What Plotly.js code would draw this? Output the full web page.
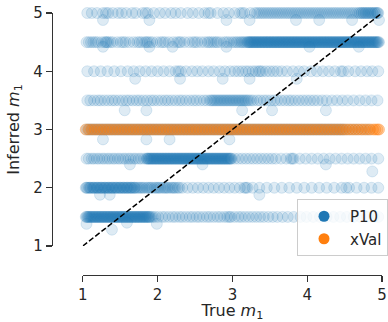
<!DOCTYPE html>
<html>
<head>
<meta charset="utf-8">
<script src="https://cdn.plot.ly/plotly-3.0.1.min.js"></script>
<style>html,body{margin:0;padding:0;background:#fff;}#chart{width:388px;height:322px;}</style>
</head>
<body>
<div id="chart"></div>
<script>
// ---- data ----
const levels = [1.5, 2, 2.5, 3, 3.5, 4, 4.5, 5];

const x_at_1_5 = [1.04,1.05,1.06,1.07,1.08,1.09,1.10,1.11,1.12,1.13,1.14,1.15,1.16,1.17,1.18,1.19,1.20,1.21,1.22,1.23,1.24,1.25,1.26,1.27,1.28,1.29,1.30,1.31,1.32,1.33,1.34,1.35,1.36,1.37,1.38,1.39,1.40,1.41,1.42,1.43,1.44,1.45,1.46,1.47,1.48,1.49,1.50,1.51,1.52,1.53,1.54,1.55,1.56,1.57,1.58,1.59,1.60,1.61,1.62,1.63,1.64,1.65,1.66,1.67,1.68,1.69,1.70,1.71,1.72,1.73,1.74,1.75,1.76,1.77,1.78,1.79,1.80,1.81,1.82,1.83,1.84,1.85,1.86,1.87,1.88,1.89,1.90,1.92,1.94,
  1.97,2.01,2.06,2.10,2.15,2.20,2.24,2.29,2.33,2.38,2.43,2.47,2.52,2.56,2.61,2.66,2.70,2.75,2.80,2.84,2.89,2.93,2.96,2.98,3.03,3.08,3.12,3.17,3.22,3.27,3.32,3.37,3.42,3.48,3.54,3.60,3.67,3.74,
  3.82,3.91,3.99,4.08,4.17,4.26,4.35,4.44,4.53,4.62,4.71,4.80,4.89,4.95];

const x_at_2_0 = [1.04,1.05,1.06,1.08,1.09,1.10,1.11,1.13,1.14,1.15,1.16,1.18,1.19,1.20,1.21,1.23,1.24,1.25,1.26,1.28,1.29,1.30,1.31,1.33,1.34,1.35,1.36,1.38,1.39,1.40,1.41,1.43,1.44,1.45,1.46,1.48,1.49,1.50,1.51,1.53,1.54,1.55,1.56,1.58,1.59,1.60,1.61,1.63,1.64,1.65,1.66,1.68,1.69,1.70,1.72,1.74,
  1.76,1.78,1.80,1.82,1.85,1.87,1.89,1.91,1.93,1.96,1.98,2.00,2.02,2.04,2.07,2.09,2.11,2.13,2.15,2.18,2.20,2.22,2.24,2.27,2.29,
  2.33,2.40,2.47,2.54,2.61,2.68,2.75,2.82,2.89,2.96,3.03,3.10,3.16,3.18,3.20,3.27,
  3.36,3.46,3.56,3.66,3.76,3.86,3.96,4.06,4.16,4.26,4.36,4.46,4.52,4.56,4.66,4.76,4.86,4.95];

const x_at_2_5 = [1.05,1.08,1.12,1.15,1.19,1.22,1.26,1.29,1.33,1.36,1.40,1.43,1.47,1.50,1.54,1.57,1.61,1.64,1.68,1.71,1.75,1.78,1.82,
  1.85,1.86,1.87,1.88,1.89,1.90,1.91,1.92,1.93,1.94,1.95,1.96,1.97,1.98,1.99,
  2.00,2.01,2.02,2.03,2.04,2.05,2.06,2.07,2.08,2.09,2.10,2.11,2.12,2.13,2.14,2.15,2.16,2.17,2.18,2.19,2.20,2.21,2.22,2.23,2.24,2.25,2.26,2.27,2.28,2.29,2.30,2.31,2.32,2.33,2.34,2.35,2.36,2.37,2.38,2.39,2.40,2.41,2.42,2.43,2.44,2.45,2.46,2.47,2.48,2.49,
  2.50,2.51,2.52,2.53,2.54,2.55,2.56,2.57,2.58,2.59,2.60,2.61,2.62,2.63,2.64,2.65,2.66,2.67,2.68,2.69,2.70,2.71,2.72,2.73,2.74,2.75,2.76,2.77,2.78,2.79,2.80,2.81,2.82,2.83,2.84,2.85,2.86,2.87,2.88,2.89,2.90,2.91,2.92,2.93,2.94,2.95,2.96,2.97,2.98,2.99,
  3.03,3.08,3.13,3.18,3.23,3.28,3.33,3.38,3.43,3.48,3.53,3.58,
  3.65,3.72,3.78,3.80,3.82,3.90,3.98,4.06,4.14,4.22,4.30,4.38,4.46,4.54,4.62,4.70,4.78,4.86,4.95];

const x_at_3_0 = [1.05,1.07,1.09,1.11,1.13,1.15,1.17,1.19,1.21,1.23,1.25,1.27,1.29,1.31,1.33,1.35,1.37,1.39,1.41,1.43,1.45,1.47,1.49,
  1.51,1.53,1.55,1.57,1.59,1.61,1.63,1.65,1.67,1.69,1.71,1.73,1.75,1.77,1.79,1.81,1.83,1.85,1.87,1.89,1.91,1.93,1.95,1.97,1.99,
  2.01,2.03,2.05,2.07,2.09,2.11,2.13,2.15,2.17,2.19,2.21,2.23,2.25,2.27,2.29,2.31,2.33,2.35,2.37,2.39,2.41,2.43,2.45,2.47,2.49,
  2.51,2.53,2.55,2.57,2.59,2.61,2.63,2.65,2.67,2.69,2.71,2.73,2.75,2.77,2.79,2.81,2.83,2.85,2.87,2.89,2.91,2.93,2.95,2.97,2.99,
  3.01,3.03,3.05,3.07,3.09,3.11,3.13,3.15,3.17,3.19,3.21,3.23,3.25,3.27,3.29,3.31,3.33,3.35,3.37,3.39,3.41,3.43,3.45,3.47,3.49,
  3.51,3.53,3.55,3.57,3.59,3.61,3.63,3.65,3.67,3.69,3.71,3.73,3.75,3.77,3.79,3.81,3.83,3.85,3.87,3.89,3.91,3.93,3.95,3.97,3.99,
  4.01,4.03,4.05,4.07,4.09,4.11,4.13,4.15,4.17,4.19,4.21,4.23,4.25,4.27,4.29,4.31,4.33,4.35,4.37,4.39,4.41,4.43,4.45,4.47,4.49,
  4.52,4.56,4.60,4.64,4.68,4.73,4.78,4.83];

const x_at_3_5 = [1.06,1.10,1.15,1.20,1.24,1.29,1.34,1.39,1.43,1.48,1.53,1.58,1.62,1.67,1.72,1.76,1.81,1.86,1.91,1.95,2.00,2.05,2.10,2.14,2.19,2.24,2.29,2.33,2.38,2.43,2.48,2.52,2.57,2.62,2.66,
  2.70,2.72,2.74,2.76,2.78,2.80,2.82,2.84,2.86,2.88,2.90,2.92,2.94,2.96,2.98,3.00,3.02,3.04,3.06,3.08,3.10,3.12,3.14,3.16,3.18,3.20,3.22,3.25,3.28,
  3.33,3.37,3.42,3.46,3.51,3.56,3.60,3.65,3.70,3.75,3.79,3.84,3.89,3.94,3.99,4.04,4.09,4.14,4.20,4.26,4.33,4.40,4.47,4.54,4.62,4.70,4.78,4.86,4.94];

const x_at_4_0 = [1.06,1.15,1.24,1.33,1.42,1.51,1.60,1.68,1.76,1.84,1.92,2.00,2.08,2.16,2.24,2.28,2.31,2.38,2.46,2.53,2.60,2.68,2.75,2.83,2.90,2.97,
  3.03,3.08,3.13,3.18,3.22,3.27,3.31,3.35,3.37,3.40,3.45,3.50,3.55,3.60,3.66,
  3.73,3.81,3.89,3.96,4.05,4.13,4.21,4.29,4.37,4.45,4.48,4.55,4.64,4.72,4.80,4.87,4.95];

const x_at_4_5 = [1.05,1.08,1.11,1.14,1.17,1.20,1.25,1.29,1.31,1.32,1.34,1.37,1.40,1.46,1.51,1.54,1.57,1.62,1.68,1.73,1.76,1.79,1.83,1.85,1.87,1.90,1.93,1.99,2.04,2.07,2.10,2.15,2.21,2.26,2.29,2.31,2.36,2.42,2.47,2.50,2.53,2.58,2.63,2.67,2.69,2.72,2.75,2.78,2.80,2.84,2.89,2.92,2.95,2.99,3.02,3.05,3.07,3.10,3.12,3.14,3.16,3.18,
  3.20,3.21,3.22,3.23,3.24,3.25,3.26,3.27,3.28,3.29,3.30,3.31,3.32,3.33,3.34,3.35,3.36,3.37,3.38,3.39,3.40,3.41,3.42,3.43,3.44,3.45,3.46,3.47,3.48,3.49,
  3.50,3.51,3.52,3.53,3.54,3.55,3.56,3.57,3.58,3.59,3.60,3.61,3.62,3.63,3.64,3.65,3.66,3.67,3.68,3.69,3.70,3.71,3.72,3.73,3.74,3.75,3.76,3.77,3.78,3.79,3.80,3.81,3.82,3.83,3.84,3.85,3.86,3.87,3.88,3.89,3.90,3.91,3.92,3.93,3.94,3.95,3.96,3.97,3.98,3.99,
  4.00,4.01,4.02,4.03,4.04,4.05,4.06,4.07,4.08,4.09,4.10,4.11,4.12,4.13,4.14,4.15,4.16,4.17,4.18,4.19,4.20,4.21,4.22,4.23,4.24,4.25,4.26,4.27,4.28,4.29,4.30,4.31,4.32,4.33,4.34,4.35,4.36,4.37,4.38,4.39,4.40,4.41,4.42,4.43,4.44,4.45,4.46,4.47,4.48,4.49,
  4.50,4.51,4.52,4.53,4.54,4.55,4.56,4.57,4.58,4.59,4.60,4.61,4.62,4.63,4.64,4.65,4.66,4.67,4.68,4.69,4.70,4.71,4.72,4.73,4.74,4.75,4.76,4.77,4.78,4.79,4.80,4.81,4.82,4.83,4.84,4.85,4.86,4.87,4.88,4.89,4.90,4.91,4.92,4.93,4.94,4.95,4.96];

const x_at_5_0 = [1.06,1.12,1.19,
  1.27,1.31,1.34,1.40,1.47,1.52,1.58,1.66,1.71,1.80,1.84,1.87,1.95,2.03,2.10,2.18,2.24,2.31,2.40,2.47,2.55,2.63,2.68,2.71,2.80,2.88,2.95,3.03,3.10,3.13,3.16,3.24,3.30,3.33,
  3.36,3.39,3.42,3.45,3.48,3.51,3.54,3.57,3.60,3.63,3.66,3.69,3.72,3.75,3.78,3.81,3.84,3.87,3.90,3.93,3.96,3.99,4.02,4.05,4.08,4.11,4.14,4.17,4.20,4.23,4.26,4.29,4.32,4.35,4.38,4.41,4.44,4.47,4.50,4.53,4.56,4.59,4.62,4.65,4.68,
  4.70,4.72,4.73,4.75,4.76,4.78,4.79,4.81,4.82,4.84,4.85,4.87,4.88,4.90,4.91,4.93,4.94,4.95];

// a few inferred values that fall just off the main levels
const off_x = [1.27,1.89,2.92,3.23,3.85,4.16,4.60,4.96, 1.27,1.89,2.20,2.92,4.03,4.69, 1.70,2.30,2.87,3.23,3.86, 1.56,1.85,3.13,3.53,4.25, 1.27,1.85,2.16,2.96, 1.63,2.60,4.25,4.87, 1.23,1.36,3.36, 1.05,1.39,1.59,1.99];
const off_y = [4.88,4.88,4.88,4.88,4.88,4.88,4.88,4.88, 4.42,4.42,4.42,4.42,4.42,4.42, 3.87,3.87,3.87,3.87,3.87, 3.33,3.33,3.33,3.33,3.33, 2.83,2.83,2.83,2.83, 2.40,2.40,2.40,2.28, 1.88,1.88,1.88, 1.38,1.28,1.40,1.38];

// xVal: inferred value is 3 everywhere
const xval_x = [1.04,1.08,1.12,1.16,1.20,1.24,1.28,1.32,1.36,1.40,1.44,1.48,1.52,1.56,1.60,1.64,1.68,1.72,1.76,1.80,1.84,1.88,1.92,1.96,
  2.00,2.04,2.08,2.12,2.16,2.20,2.24,2.28,2.32,2.36,2.40,2.44,2.48,2.52,2.56,2.60,2.64,2.68,2.72,2.76,2.80,2.84,2.88,2.92,2.96,
  3.00,3.04,3.08,3.12,3.16,3.20,3.24,3.28,3.32,3.36,3.40,3.44,3.48,3.52,3.56,3.60,3.64,3.68,3.72,3.76,3.80,3.84,3.88,3.92,3.96,
  4.00,4.04,4.08,4.12,4.16,4.20,4.24,4.28,4.32,4.36,4.40,4.44,4.48,4.52,4.56,4.60,4.64,4.68,4.72,4.76,4.80,4.84,4.88,4.91,4.94,4.96];
const xval_level = 3;

// identity reference line
const diag_x = [1, 5];
const diag_y = [1, 5];

const xTicks = [1, 2, 3, 4, 5];
const yTicks = [1, 2, 3, 4, 5];

// ---- build ----
const perLevel = [x_at_1_5, x_at_2_0, x_at_2_5, x_at_3_0, x_at_3_5, x_at_4_0, x_at_4_5, x_at_5_0];
let p10x = [], p10y = [];
perLevel.forEach((xs, i) => { xs.forEach(v => { p10x.push(v); p10y.push(levels[i]); }); });
p10x = p10x.concat(off_x); p10y = p10y.concat(off_y);
const xvy = xval_x.map(() => xval_level);

const BLUE = '31,119,180', ORANGE = '255,127,14';
const aB = 0.15, aO = 0.32;

const traces = [
  {type:'scatter', mode:'markers', x:p10x, y:p10y, showlegend:false, cliponaxis:false, hoverinfo:'skip',
   marker:{size:11, color:`rgba(${BLUE},${aB})`, line:{width:1, color:`rgba(${BLUE},${aB})`}}},
  {type:'scatter', mode:'markers', x:xval_x, y:xvy, showlegend:false, cliponaxis:false, hoverinfo:'skip',
   marker:{size:11, color:`rgba(${ORANGE},${aO})`, line:{width:1, color:`rgba(${ORANGE},${aO})`}}},
  {type:'scatter', mode:'lines', x:diag_x, y:diag_y, showlegend:false, cliponaxis:false, hoverinfo:'skip',
   line:{color:'#000', width:1.5, dash:'5.5px,2.4px'}},
  {type:'scatter', mode:'markers', x:[null], y:[null], name:'P10', marker:{size:11, color:`rgb(${BLUE})`}},
  {type:'scatter', mode:'markers', x:[null], y:[null], name:'xVal', marker:{size:11, color:`rgb(${ORANGE})`}}
];

const W = 388, H = 322;
const axCol = '#333333', txt = '#262626';
const layout = {
  width: W, height: H,
  margin: {l:0, r:0, t:0, b:0},
  paper_bgcolor: '#fff', plot_bgcolor: 'rgba(0,0,0,0)',
  font: {family: 'DejaVu Sans', size: 15, color: txt},
  showlegend: true,
  xaxis: {
    range: [1, 5], domain: [83/W, 383/W], anchor: 'free', position: 1 - 275/H,
    tickvals: xTicks, ticktext: xTicks.map(String), ticks: 'outside', ticklen: 6, tickwidth: 1.25, tickcolor: axCol,
    showline: true, linecolor: axCol, linewidth: 1.25, showgrid: false, zeroline: false,
    tickfont: {size: 15, color: txt},
    title: {text: 'True <i>m</i><sub>1</sub>', font: {size: 16, color: txt}, standoff: 12}
  },
  yaxis: {
    range: [1, 5], domain: [1 - 246/H, 1 - 13/H], anchor: 'free', position: 52/W,
    tickvals: yTicks, ticktext: yTicks.map(String), ticks: 'outside', ticklen: 6, tickwidth: 1.25, tickcolor: axCol,
    showline: true, linecolor: axCol, linewidth: 1.25, showgrid: false, zeroline: false,
    tickfont: {size: 15, color: txt},
    title: {text: 'Inferred <i>m</i><sub>1</sub>', font: {size: 16, color: txt}, standoff: 8}
  },
  legend: {
    x: 298/W, y: 1 - 199/H, xanchor: 'left', yanchor: 'top',
    bgcolor: 'rgba(255,255,255,0.8)', bordercolor: '#cccccc', borderwidth: 1,
    font: {size: 15, color: txt}, itemwidth: 42, tracegroupgap: 0
  }
};

Plotly.newPlot('chart', traces, layout, {displayModeBar: false, staticPlot: true});
</script>
</body>
</html>
